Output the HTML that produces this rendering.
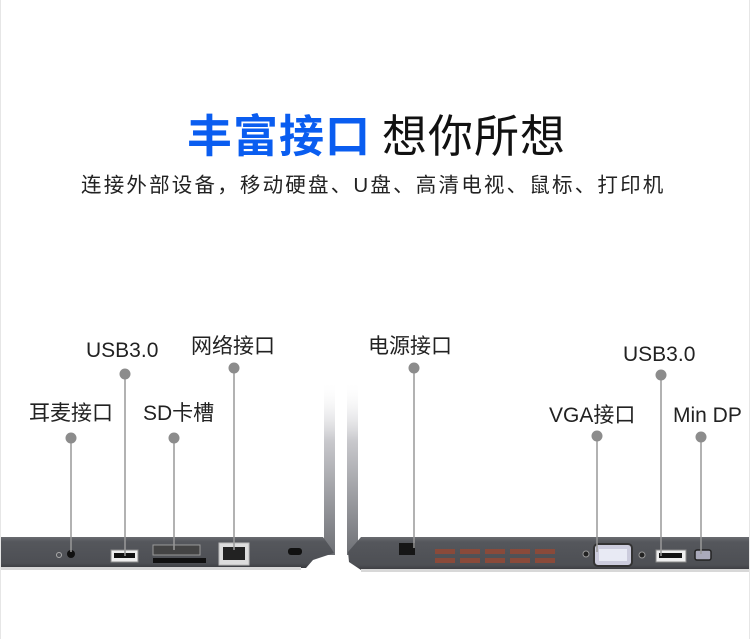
<!DOCTYPE html>
<html><head><meta charset="utf-8">
<style>
html,body{margin:0;padding:0;background:#fff;}
#c{position:relative;width:750px;height:639px;overflow:hidden;background:#fff;font-family:"Liberation Sans","Noto Sans CJK SC",sans-serif;border-left:1px solid #e6e6e6;border-right:1px solid #e6e6e6;box-sizing:border-box;}
.t{position:absolute;white-space:nowrap;line-height:1;}
.lab{position:absolute;white-space:nowrap;font-size:21px;color:#222;line-height:1;}
</style></head><body>
<div id="c">
<div class="t" style="left:186px;top:114px;font-size:45px;font-weight:bold;color:#0a5df0;letter-spacing:1px;">丰富接口</div>
<div class="t" style="left:381px;top:114px;font-size:45px;color:#111;letter-spacing:1px;">想你所想</div>
<div class="t" style="left:80px;top:176px;font-size:20.5px;color:#222;letter-spacing:2.2px;">连接外部设备，移动硬盘、U盘、高清电视、鼠标、打印机</div>

<div class="lab" style="left:85px;top:340px;">USB3.0</div>
<div class="lab" style="left:190px;top:336px;">网络接口</div>
<div class="lab" style="left:28px;top:403px;">耳麦接口</div>
<div class="lab" style="left:142px;top:403px;">SD卡槽</div>
<div class="lab" style="left:367px;top:336px;">电源接口</div>
<div class="lab" style="left:622px;top:344px;">USB3.0</div>
<div class="lab" style="left:548px;top:405px;">VGA接口</div>
<div class="lab" style="left:672px;top:405px;">Min DP</div>

<svg width="750" height="639" style="position:absolute;left:0;top:0">
<defs>
<linearGradient id="lid" x1="0" y1="0" x2="0" y2="1">
<stop offset="0" stop-color="#fff" stop-opacity="0"/>
<stop offset="0.35" stop-color="#c8c8cc"/>
<stop offset="1" stop-color="#6e7075"/>
</linearGradient>
<linearGradient id="base" x1="0" y1="0" x2="0" y2="1">
<stop offset="0" stop-color="#6a6c71"/>
<stop offset="0.15" stop-color="#55575c"/>
<stop offset="0.85" stop-color="#4d4f54"/>
<stop offset="1" stop-color="#3a3b3f"/>
</linearGradient>
</defs>
<!-- lids -->
<rect x="323" y="380" width="11" height="175" fill="url(#lid)"/>
<rect x="346" y="380" width="11" height="175" fill="url(#lid)"/>
<!-- left base -->
<path d="M0 537 L322 537 L330 548 L333 553 L312 560 L305 568 L0 568 Z" fill="url(#base)"/>
<rect x="0" y="567" width="300" height="3" fill="#d8d8d8"/>
<!-- right base -->
<path d="M360 537 L750 537 L750 570 L360 570 L348 562 L347 552 Z" fill="url(#base)"/>
<rect x="360" y="569" width="390" height="3" fill="#d8d8d8"/>
<!-- left ports -->
<circle cx="70" cy="554" r="4" fill="#111"/>
<circle cx="58" cy="555" r="2.5" fill="none" stroke="#aaa" stroke-width="1"/>
<rect x="110" y="550" width="27" height="12" fill="#eee" stroke="#888"/>
<rect x="113" y="553" width="21" height="5" fill="#111"/>
<rect x="152" y="545" width="47" height="10" fill="#444" stroke="#999"/>
<rect x="152" y="558" width="53" height="5" fill="#111"/>
<rect x="218" y="543" width="30" height="22" fill="#ddd" stroke="#bbb"/>
<rect x="222" y="547" width="22" height="13" fill="#222"/>
<rect x="287" y="548" width="14" height="7" rx="3" fill="#111"/>
<!-- right ports -->
<rect x="398" y="543" width="16" height="12" fill="#161616"/>
<g fill="#8a4a3a">
<rect x="434" y="549" width="20" height="5"/><rect x="459" y="549" width="20" height="5"/><rect x="484" y="549" width="20" height="5"/><rect x="509" y="549" width="20" height="5"/><rect x="534" y="549" width="20" height="5"/>
<rect x="434" y="558" width="20" height="5"/><rect x="459" y="558" width="20" height="5"/><rect x="484" y="558" width="20" height="5"/><rect x="509" y="558" width="20" height="5"/><rect x="534" y="558" width="20" height="5"/>
</g>
<circle cx="585" cy="554" r="3" fill="#222" stroke="#999"/>
<rect x="593" y="544" width="38" height="22" rx="4" fill="#ccd" stroke="#333" stroke-width="2"/>
<rect x="598" y="549" width="28" height="12" fill="#e8eaf4"/>
<circle cx="641" cy="555" r="3" fill="#222" stroke="#999"/>
<rect x="655" y="550" width="30" height="12" fill="#eee" stroke="#888"/>
<rect x="658" y="553" width="23" height="5" fill="#111"/>
<rect x="694" y="550" width="16" height="10" rx="2" fill="#aab" stroke="#222" stroke-width="1.5"/>
<!-- connectors -->
<g stroke="#999" stroke-width="1.5">
<line x1="124" y1="374" x2="124" y2="556"/>
<line x1="233" y1="368" x2="233" y2="550"/>
<line x1="70" y1="438" x2="70" y2="552"/>
<line x1="173" y1="438" x2="173" y2="550"/>
<line x1="413" y1="368" x2="413" y2="548"/>
<line x1="660" y1="375" x2="660" y2="556"/>
<line x1="596" y1="436" x2="596" y2="552"/>
<line x1="700" y1="437" x2="700" y2="554"/>
</g>
<g fill="#8c8c8c">
<circle cx="124" cy="374" r="5.5"/><circle cx="233" cy="368" r="5.5"/>
<circle cx="70" cy="438" r="5.5"/><circle cx="173" cy="438" r="5.5"/>
<circle cx="413" cy="368" r="5.5"/><circle cx="660" cy="375" r="5.5"/>
<circle cx="596" cy="436" r="5.5"/><circle cx="700" cy="437" r="5.5"/>
</g>
</svg>
</div>
</body></html>
